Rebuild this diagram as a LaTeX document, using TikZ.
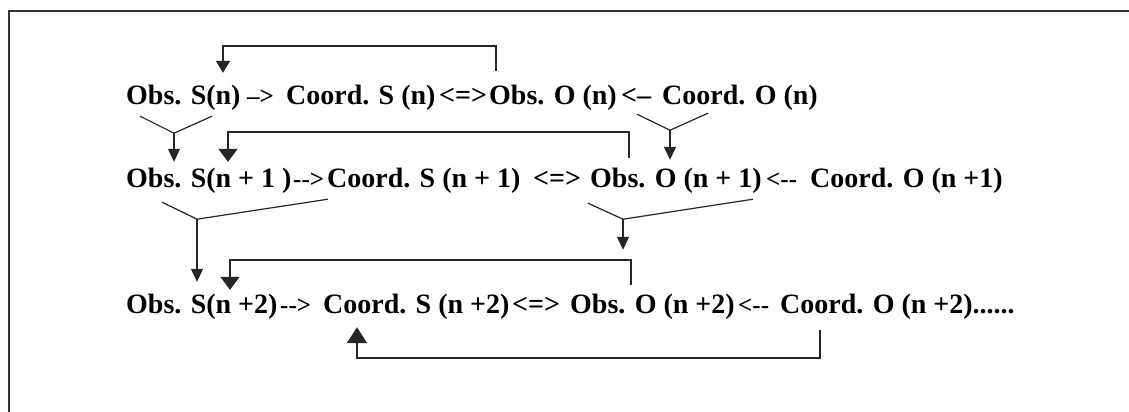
\documentclass[tikz,border=0pt]{standalone}
\usepackage{fontspec}
\setmainfont{Liberation Serif}
\usetikzlibrary{arrows.meta,calc}
\begin{document}
\begin{tikzpicture}[x=1pt,y=-1pt,
  term/.style={anchor=base west, inner sep=0pt, text height=20pt, text depth=6pt,
               font=\fontsize{28}{34}\selectfont\bfseries},
  sep/.style={term, font=\fontsize{25}{30}\selectfont\bfseries},
  loopline/.style={line width=1.8pt, draw=black!85},
  yline/.style={line width=1.2pt, draw=black!85},
  ytip/.style={yline, -{Triangle[length=13pt,width=12pt]}},
  toptip/.style={loopline, -{Triangle[length=12pt,width=14pt]}},
  looptip/.style={loopline, -{Triangle[length=13pt,width=19pt]}},
  uptip/.style={loopline, -{Triangle[length=16pt,width=20pt]}}]
\useasboundingbox (0,0) rectangle (1129,412);
\draw[line width=2.5pt, draw=black!80] (9,412) -- (9,11) -- (1129,11);

% row 1
\node[term] (r1a) at (126,104) {Obs. S(n)};
\node[sep]  (r1p) at (247,104) {-->};
\node[term] (r1b) at (286,104) {Coord. S (n)};
\node[term] (r1q) at (439,104) {<=>};
\node[term] (r1c) at (489,104) {Obs. O (n)};
\node[term] (r1r) at (621,104) {<--};
\node[term] (r1d) at (662,104) {Coord. O (n)};
% row 2
\node[term] (r2a) at (126,187) {Obs. S(n + 1 )};
\node[sep]  (r2p) at (293,187) {-{}->};
\node[term] (r2b) at (327,187) {Coord. S (n + 1)};
\node[term] (r2q) at (533,187) {<=>};
\node[term] (r2c) at (590,187) {Obs. O (n + 1)};
\node[sep]  (r2r) at (766,187) {<-{}-};
\node[term] (r2d) at (810,187) {Coord. O (n +1)};
% row 3
\node[term] (r3a) at (126,313) {Obs. S(n +2)};
\node[sep]  (r3p) at (280,313) {-{}->};
\node[term] (r3b) at (323,313) {Coord. S (n +2)};
\node[term] (r3q) at (512,313) {<=>};
\node[term] (r3c) at (570,313) {Obs. O (n +2)};
\node[sep]  (r3r) at (738,313) {<-{}-};
\node[term] (r3d) at (780,313) {Coord. O (n +2)......};

% loops (Obs. O -> Obs. S, Coord. O -> Coord. S)
\draw[toptip] ($(r1c.north west)+(7,-13)$) |- ($(r1a.north west)+(97,-38)$) -- ($(r1a.north west)+(97,-11)$);
\draw[looptip] ($(r2c.north west)+(39,-9)$) |- ($(r2a.north west)+(102,-35)$) -- ($(r2a.north west)+(102,-5)$);
\draw[looptip] ($(r3c.north west)+(61,-8)$) |- ($(r3a.north west)+(104,-33)$) -- ($(r3a.north west)+(104,-3)$);
\draw[uptip] ($(r3d.south west)+(40,11)$) |- ($(r3b.south west)+(34,39)$) -- ($(r3b.south west)+(34,8)$);

% Y-shaped joins
\coordinate (y1l) at ($(r1a.south west)+(14,6)$);
\coordinate (y1r) at ($(r1a.south west)+(86,6)$);
\coordinate (y1j) at ($(r1a.south west)+(48,23)$);
\draw[yline] (y1l) -- (y1j) -- (y1r);
\draw[ytip] (y1j) -- ($(r2a.north west)+(48,-5)$);

\coordinate (y2l) at ($(r1d.south west)+(-25,4)$);
\coordinate (y2r) at ($(r1d.south west)+(46,3)$);
\coordinate (y2j) at ($(r1d.south west)+(8,20)$);
\draw[yline] (y2l) -- (y2j) -- (y2r);
\draw[ytip] (y2j) -- ($(r2c.north west)+(80,-7)$);

\coordinate (y3l) at ($(r2a.south west)+(36,9)$);
\coordinate (y3r) at ($(r2a.south west)+(202,6)$);
\coordinate (y3j) at ($(r2a.south west)+(71,26)$);
\draw[yline] (y3l) -- (y3j) -- (y3r);
\draw[ytip] (y3j) -- ($(r3a.north west)+(71,-11)$);

\coordinate (y4l) at ($(r2c.south west)+(-2,10)$);
\coordinate (y4r) at ($(r2c.south west)+(163,6)$);
\coordinate (y4j) at ($(r2c.south west)+(33,26)$);
\draw[yline] (y4l) -- (y4j) -- (y4r);
\draw[ytip] (y4j) -- ($(r3c.north west)+(53,-43)$);
\end{tikzpicture}
\end{document}
